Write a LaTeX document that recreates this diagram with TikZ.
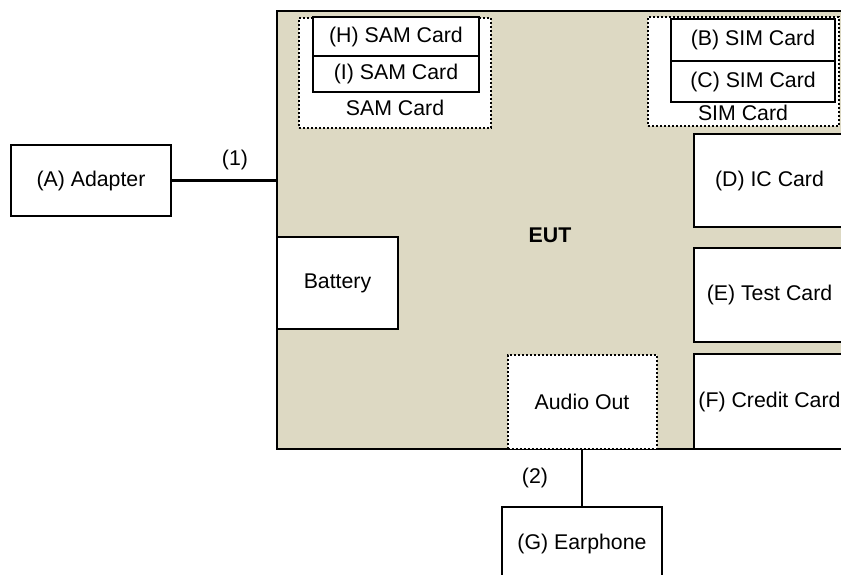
\documentclass[tikz,border=0pt]{standalone}
\usepackage{fontspec}
\setmainfont{Liberation Sans}
\definecolor{euttan}{HTML}{DDD9C3}
\begin{document}
\begin{tikzpicture}[x=1pt,y=-1pt,
  every node/.style={font=\fontsize{21.3}{25}\selectfont, inner sep=0pt, outer sep=0pt},
  box/.style={draw=black, line width=2.2pt, fill=white, rectangle},
  dotbox/.style={draw=black, line width=2pt, fill=white, rectangle, dash pattern=on 2pt off 2pt},
  wire/.style={draw=black, line width=2.2pt}]
\useasboundingbox (0,0) rectangle (841,574);
\clip (0,0) rectangle (841,574);
% EUT
\node[draw=black, line width=2.2pt, fill=euttan, minimum width=583pt, minimum height=438pt] (eut) at (568.5,230) {};
\node[font=\fontsize{21.3}{25}\selectfont\bfseries] (euttxt) at (550,235) {EUT};
% SAM
\node[dotbox, minimum width=192pt, minimum height=110pt] (sam) at (395,73) {};
\node[box, minimum width=166pt, minimum height=39pt] (h) at (396,36.5) {(H) SAM Card};
\node[box, minimum width=166pt, minimum height=36pt] (i) at (396,74) {(I) SAM Card};
\node (samtxt) at (395,108) {SAM Card};
% SIM
\node[dotbox, minimum width=191pt, minimum height=109pt] (sim) at (743.5,71.5) {};
\node[box, minimum width=164pt, minimum height=42pt] (b) at (753,40) {(B) SIM Card};
\node[box, minimum width=164pt, minimum height=41pt] (c) at (753,81.5) {(C) SIM Card};
\node (simtxt) at (743,113) {SIM Card};
% cards
\node[box, minimum width=151pt, minimum height=93pt] (d) at (769.5,180.5) {(D) IC Card};
\node[box, minimum width=151pt, minimum height=94pt] (e) at (769.5,295) {(E) Test Card};
\node[box, minimum width=151pt, minimum height=95pt] (f) at (769.5,401.5) {(F) Credit Card};
% battery, audio
\node[box, minimum width=121pt, minimum height=92pt] (bat) at (337.5,283) {Battery};
\node[dotbox, minimum width=149pt, minimum height=94pt] (audio) at (582,402) {Audio Out};
% externals
\node[box, minimum width=160pt, minimum height=71pt] (adapter) at (91,180.5) {(A) Adapter};
\node[box, minimum width=160pt, minimum height=73pt] (ear) at (582,543.5) {(G) Earphone};
% connectors
\draw[wire] (adapter.east) -- (adapter.east -| eut.west);
\draw[wire] (audio.south) -- (ear.north);
\node (l1) at (235,160) {(1)};
\node (l2) at (535,478) {(2)};
\end{tikzpicture}
\end{document}
